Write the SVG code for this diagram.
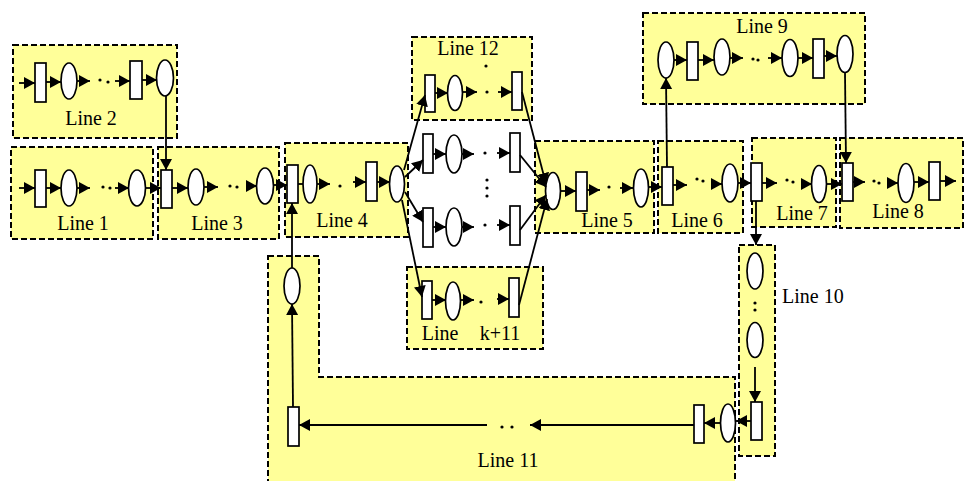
<svg xmlns="http://www.w3.org/2000/svg" width="969" height="481" viewBox="0 0 969 481">
<style>
.box{fill:#FFFF99;stroke:#000;stroke-width:2;stroke-dasharray:6 3}
.r,.e{fill:#fff;stroke:#000;stroke-width:1.7}
.d{fill:#000}
.c{stroke:#000;stroke-width:1.8;fill:none}
.a{stroke:#000;stroke-width:1.8;fill:none;marker-end:url(#ah)}
text{font-family:"Liberation Serif","Times New Roman",serif;font-size:20px;fill:#000;text-anchor:middle}
</style>
<defs>
<marker id="ah" viewBox="0 0 11 12" refX="11" refY="6" markerWidth="11" markerHeight="12" markerUnits="userSpaceOnUse" orient="auto">
<path d="M0,0 L11,6 L0,12 z" fill="#000"/>
</marker>
</defs>
<rect width="969" height="481" fill="#fff"/>
<g id="line1">
<rect class="box" x="11" y="147" width="142" height="92"/>
<rect class="r" x="35" y="170" width="11" height="37"/>
<ellipse class="e" cx="69" cy="188" rx="8" ry="18"/>
<circle class="d" cx="103" cy="187" r="1.6"/><circle class="d" cx="110" cy="188" r="1.6"/>
<ellipse class="e" cx="137" cy="188" rx="8.5" ry="18"/>
<text x="83" y="230">Line 1</text>
</g>
<g id="line2">
<rect class="box" x="13" y="45" width="164" height="93"/>
<rect class="r" x="35" y="63" width="11" height="39"/>
<ellipse class="e" cx="69" cy="81" rx="8" ry="18"/>
<circle class="d" cx="100" cy="80" r="1.6"/><circle class="d" cx="108" cy="82" r="1.6"/>
<rect class="r" x="130" y="61" width="12" height="38"/>
<ellipse class="e" cx="165" cy="78" rx="8.5" ry="18"/>
<text x="91" y="125">Line 2</text>
</g>
<g id="line3">
<rect class="box" x="158" y="147" width="121" height="92"/>
<rect class="r" x="161" y="170" width="11" height="38"/>
<ellipse class="e" cx="196" cy="187" rx="8" ry="18"/>
<circle class="d" cx="230" cy="186" r="1.6"/><circle class="d" cx="237" cy="187" r="1.6"/>
<ellipse class="e" cx="265" cy="186" rx="8.5" ry="18"/>
<text x="217" y="230">Line 3</text>
</g>
<g id="line4">
<rect class="box" x="285" y="143" width="123" height="94"/>
<rect class="r" x="287" y="165" width="11" height="38"/>
<ellipse class="e" cx="310" cy="184" rx="7" ry="19"/>
<circle class="d" cx="340" cy="186" r="1.6"/>
<rect class="r" x="366" y="162" width="11" height="39"/>
<ellipse class="e" cx="397" cy="184" rx="7.5" ry="18"/>
<text x="342" y="227">Line 4</text>
</g>
<g id="line12">
<rect class="box" x="412" y="37" width="120" height="83"/>
<text x="468" y="55">Line 12</text>
<circle class="d" cx="486" cy="66" r="1.6"/>
<rect class="r" x="425" y="75" width="10" height="37"/>
<ellipse class="e" cx="455" cy="93" rx="7.5" ry="17.5"/>
<circle class="d" cx="487" cy="92" r="1.6"/>
<rect class="r" x="512" y="72" width="10" height="38"/>
</g>
<g id="branch2">
<rect class="r" x="423" y="134" width="10" height="39"/>
<ellipse class="e" cx="454" cy="154" rx="8" ry="19"/>
<circle class="d" cx="485" cy="153" r="1.6"/>
<rect class="r" x="510" y="133" width="10" height="39"/>
<circle class="d" cx="487" cy="180" r="1.6"/><circle class="d" cx="487" cy="188" r="1.6"/><circle class="d" cx="487" cy="196" r="1.6"/>
</g>
<g id="branch3">
<rect class="r" x="423" y="208" width="10" height="39"/>
<ellipse class="e" cx="454" cy="227" rx="8" ry="19"/>
<circle class="d" cx="485" cy="225" r="1.6"/>
<rect class="r" x="510" y="206" width="10" height="39"/>
</g>
<g id="linek11">
<rect class="box" x="407" y="267" width="136" height="82"/>
<rect class="r" x="422" y="281" width="10" height="38"/>
<ellipse class="e" cx="453" cy="301" rx="7.5" ry="19"/>
<circle class="d" cx="481" cy="302" r="1.6"/>
<rect class="r" x="509" y="278" width="10" height="39"/>
<text x="440" y="340">Line</text>
<text x="500" y="340">k+11</text>
</g>
<g id="line5">
<rect class="box" x="535" y="141" width="119" height="92"/>
<ellipse class="e" cx="553" cy="191" rx="7.5" ry="18.5"/>
<rect class="r" x="576" y="172" width="11" height="39"/>
<circle class="d" cx="609" cy="187" r="1.6"/>
<ellipse class="e" cx="641" cy="188" rx="7.5" ry="19"/>
<text x="607" y="227">Line 5</text>
</g>
<g id="line6">
<rect class="box" x="658" y="141" width="85" height="92"/>
<rect class="r" x="662" y="167" width="11" height="38"/>
<circle class="d" cx="697" cy="179" r="1.6"/><circle class="d" cx="703" cy="181" r="1.6"/>
<ellipse class="e" cx="730" cy="183" rx="8" ry="19"/>
<text x="697" y="227">Line 6</text>
</g>
<g id="line7">
<rect class="box" x="752" y="138" width="84" height="89"/>
<rect class="r" x="751" y="163" width="11" height="38"/>
<circle class="d" cx="787" cy="180" r="1.6"/><circle class="d" cx="793" cy="182" r="1.6"/>
<ellipse class="e" cx="819" cy="184" rx="7.5" ry="18.5"/>
<text x="802" y="220">Line 7</text>
</g>
<g id="line8">
<rect class="box" x="840" y="138" width="123" height="90"/>
<rect class="r" x="842" y="163" width="11" height="38"/>
<circle class="d" cx="874" cy="181" r="1.6"/><circle class="d" cx="879" cy="183" r="1.6"/>
<ellipse class="e" cx="906" cy="183" rx="8" ry="19.5"/>
<rect class="r" x="929" y="162" width="11" height="38"/>
<text x="898" y="218">Line 8</text>
</g>
<g id="line9">
<rect class="box" x="643" y="13" width="222" height="91"/>
<text x="762" y="33">Line 9</text>
<ellipse class="e" cx="666" cy="60" rx="8" ry="18"/>
<rect class="r" x="687" y="42" width="11" height="38"/>
<ellipse class="e" cx="722" cy="57" rx="8" ry="18"/>
<circle class="d" cx="753" cy="59" r="1.6"/><circle class="d" cx="758" cy="60" r="1.6"/>
<ellipse class="e" cx="790" cy="58" rx="8" ry="18.5"/>
<rect class="r" x="813" y="39" width="11" height="39"/>
<ellipse class="e" cx="845" cy="54" rx="8" ry="18.5"/>
</g>
<g id="line10">
<rect class="box" x="739" y="245" width="36" height="211"/>
<ellipse class="e" cx="755" cy="271" rx="8" ry="18"/>
<circle class="d" cx="755" cy="303" r="1.6"/><circle class="d" cx="755" cy="310" r="1.6"/>
<ellipse class="e" cx="755" cy="340" rx="8" ry="17.5"/>
<rect class="r" x="751" y="402" width="11" height="38"/>
<text x="782" y="303" style="text-anchor:start">Line 10</text>
</g>
<g id="line11">
<path class="box" d="M268,256 L319,256 L319,377 L735,377 L735,484 L268,484 Z"/>
<ellipse class="e" cx="292" cy="286" rx="8" ry="18"/>
<rect class="r" x="288" y="407" width="11" height="39"/>
<circle class="d" cx="502" cy="427" r="1.6"/><circle class="d" cx="512" cy="427" r="1.6"/>
<rect class="r" x="694" y="405" width="10" height="38"/>
<ellipse class="e" cx="728" cy="423" rx="7.5" ry="19"/>
<text x="508" y="467">Line 11</text>
</g>
<g id="connectors">
<line class="a" x1="19" y1="188" x2="35" y2="188"/>
<line class="a" x1="46" y1="188" x2="61" y2="188"/>
<line class="a" x1="77" y1="188" x2="90" y2="188"/>
<line class="a" x1="115" y1="188" x2="129" y2="188"/>
<line class="a" x1="146" y1="188" x2="161" y2="188"/>
<line class="a" x1="19" y1="83" x2="35" y2="83"/>
<line class="a" x1="46" y1="82" x2="61" y2="82"/>
<line class="a" x1="77" y1="81" x2="90" y2="81"/>
<line class="a" x1="115" y1="81" x2="130" y2="81"/>
<line class="a" x1="142" y1="80" x2="157" y2="80"/>
<line class="a" x1="166" y1="96" x2="166" y2="170"/>
<line class="a" x1="172" y1="188" x2="188" y2="188"/>
<line class="a" x1="204" y1="187" x2="218" y2="187"/>
<line class="a" x1="246" y1="186" x2="257" y2="186"/>
<line class="a" x1="274" y1="185" x2="287" y2="185"/>
<line class="c" x1="298" y1="184" x2="303" y2="184"/>
<line class="a" x1="317" y1="184" x2="330" y2="184"/>
<line class="a" x1="353" y1="182" x2="366" y2="182"/>
<line class="a" x1="377" y1="182" x2="390" y2="182"/>
<line class="a" x1="404" y1="170" x2="425" y2="95"/>
<line class="a" x1="405" y1="177" x2="423" y2="160"/>
<line class="a" x1="405" y1="192" x2="423" y2="222"/>
<line class="a" x1="402" y1="200" x2="422" y2="297"/>
<line class="a" x1="435" y1="93" x2="448" y2="93"/>
<line class="a" x1="463" y1="92" x2="477" y2="92"/>
<line class="a" x1="498" y1="92" x2="512" y2="92"/>
<line class="a" x1="433" y1="154" x2="446" y2="154"/>
<line class="a" x1="462" y1="154" x2="474" y2="154"/>
<line class="a" x1="497" y1="153" x2="510" y2="153"/>
<line class="a" x1="433" y1="227" x2="446" y2="227"/>
<line class="a" x1="462" y1="227" x2="474" y2="227"/>
<line class="a" x1="497" y1="225" x2="510" y2="225"/>
<line class="a" x1="432" y1="300" x2="446" y2="300"/>
<line class="a" x1="461" y1="300" x2="474" y2="300"/>
<line class="a" x1="497" y1="299" x2="509" y2="299"/>
<line class="a" x1="522" y1="92" x2="546" y2="184"/>
<line class="a" x1="520" y1="155" x2="546" y2="187"/>
<line class="a" x1="520" y1="230" x2="546" y2="195"/>
<line class="a" x1="519" y1="305" x2="547" y2="199"/>
<line class="a" x1="561" y1="191" x2="576" y2="191"/>
<line class="a" x1="587" y1="190" x2="600" y2="190"/>
<line class="a" x1="620" y1="188" x2="633" y2="188"/>
<line class="a" x1="648" y1="187" x2="662" y2="187"/>
<line class="a" x1="673" y1="185" x2="687" y2="185"/>
<line class="a" x1="712" y1="184" x2="722" y2="184"/>
<line class="a" x1="738" y1="183" x2="751" y2="183"/>
<line class="a" x1="667" y1="167" x2="666" y2="78"/>
<line class="a" x1="762" y1="183" x2="777" y2="183"/>
<line class="a" x1="802" y1="184" x2="812" y2="184"/>
<line class="a" x1="827" y1="184" x2="842" y2="184"/>
<line class="a" x1="756" y1="201" x2="756" y2="245"/>
<line class="a" x1="674" y1="60" x2="687" y2="60"/>
<line class="a" x1="698" y1="60" x2="714" y2="60"/>
<line class="a" x1="730" y1="58" x2="743" y2="58"/>
<line class="a" x1="768" y1="58" x2="782" y2="58"/>
<line class="a" x1="798" y1="58" x2="813" y2="58"/>
<line class="a" x1="824" y1="56" x2="837" y2="56"/>
<line class="a" x1="845" y1="73" x2="846" y2="163"/>
<line class="a" x1="853" y1="182" x2="865" y2="182"/>
<line class="a" x1="887" y1="183" x2="898" y2="183"/>
<line class="a" x1="914" y1="182" x2="929" y2="182"/>
<line class="a" x1="940" y1="181" x2="956" y2="181"/>
<line class="a" x1="755" y1="367" x2="755" y2="402"/>
<line class="a" x1="751" y1="421" x2="736" y2="421"/>
<line class="a" x1="721" y1="423" x2="704" y2="423"/>
<line class="a" x1="694" y1="425" x2="530" y2="425"/>
<line class="a" x1="487" y1="425" x2="299" y2="425"/>
<line class="a" x1="293" y1="407" x2="292" y2="304"/>
<line class="a" x1="292" y1="268" x2="292" y2="203"/>
</g>
</svg>
